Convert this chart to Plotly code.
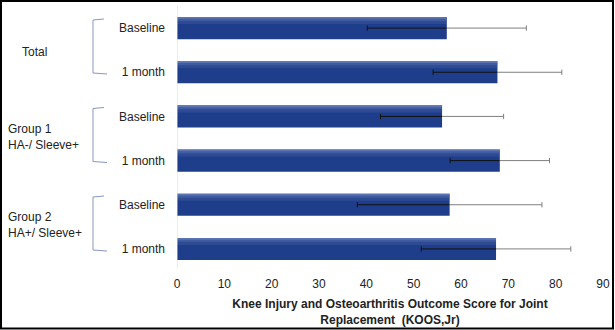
import plotly.graph_objects as go

# ---- data ----
row_labels = ["Baseline", "1 month", "Baseline", "1 month", "Baseline", "1 month"]
group_labels = ["Total", "Group 1<br>HA-/ Sleeve+", "Group 2<br>HA+/ Sleeve+"]
means = [57.0, 67.7, 56.0, 68.2, 57.6, 67.4]
sds = [16.8, 13.6, 13.0, 10.5, 19.5, 15.8]
x_ticks = [0, 10, 20, 30, 40, 50, 60, 70, 80, 90]
x_title = "Knee Injury and Osteoarthritis Outcome Score for Joint<br>Replacement  (KOOS,Jr)"

W, H = 615, 330
ML, MR, MT, MB = 177, 12, 6, 59
PW, PH = W - ML - MR, H - MT - MB

def px(x):
    return (x - ML) / PW

def py(y):
    return (H - MB - y) / PH

ypos = list(range(len(means)))

fig = go.Figure()
fig.add_trace(go.Bar(
    x=means, y=ypos, orientation="h", width=0.5, offset=-0.25,
    marker=dict(color="#1E3D8A", line=dict(width=0)),
    hoverinfo="skip", showlegend=False,
))
# soft highlight toward the top of each bar (gradient look)
for w, col in [(0.16, "rgba(90,115,175,0.25)"), (0.09, "rgba(100,125,185,0.35)"), (0.04, "rgba(120,140,195,0.5)")]:
    fig.add_trace(go.Bar(
        x=means, y=ypos, orientation="h", width=w, offset=-0.25,
        marker=dict(color=col, line=dict(width=0)),
        hoverinfo="skip", showlegend=False,
    ))

# error bars: dark over the bar, gray outside
dx, dy, gx, gy = [], [], [], []
cap = 0.06
for yv, m, s in zip(ypos, means, sds):
    lo, hi = m - s, m + s
    dx += [lo, m, None, lo, lo, None]
    dy += [yv, yv, None, yv - cap, yv + cap, None]
    gx += [m, hi, None, hi, hi, None]
    gy += [yv, yv, None, yv - cap, yv + cap, None]
fig.add_trace(go.Scatter(x=dx, y=dy, mode="lines", line=dict(color="#111111", width=1),
                         hoverinfo="skip", showlegend=False))
fig.add_trace(go.Scatter(x=gx, y=gy, mode="lines", line=dict(color="#7F7F7F", width=1),
                         hoverinfo="skip", showlegend=False))

font = "Liberation Sans, Arial, sans-serif"
annotations = []
shapes = []
# group labels and brackets
group_text_pos = [(20, 52), (6, 137), (6, 225)]
for i, (txt, (gxp, gyp)) in enumerate(zip(group_labels, group_text_pos)):
    annotations.append(dict(
        text=txt, xref="paper", yref="paper", x=px(gxp), y=py(gyp),
        xanchor="left", yanchor="middle", align="left", showarrow=False,
        font=dict(family=font, size=12, color="#222222"),
    ))
    top = 19 + i * 88.5
    bot = top + 55
    shapes.append(dict(
        type="path", xref="paper", yref="paper",
        path=f"M {px(104)},{py(top)} L {px(93)},{py(top + 1)} L {px(93)},{py(bot - 1)} L {px(107)},{py(bot)}",
        line=dict(color="#8696C6", width=1),
    ))

# outer border
shapes.append(dict(type="rect", xref="paper", yref="paper",
                   x0=px(1), x1=px(613), y0=py(1), y1=py(328.5),
                   line=dict(color="black", width=2), fillcolor="rgba(0,0,0,0)"))
# y axis line at 0
shapes.append(dict(type="line", xref="x", yref="paper", x0=0, x1=0, y0=py(268), y1=py(6),
                   line=dict(color="#D9D9D9", width=1)))

fig.update_layout(
    width=W, height=H,
    margin=dict(l=ML, r=MR, t=MT, b=MB),
    plot_bgcolor="white", paper_bgcolor="white",
    font=dict(family=font, size=12, color="#222222"),
    barmode="overlay",
    annotations=annotations, shapes=shapes,
    xaxis=dict(
        range=[0, 90], tickvals=x_ticks, showgrid=False, zeroline=False,
        showline=False, ticks="", ticklabelstandoff=4, tickfont=dict(size=12, color="#222222"),
        title=dict(text=x_title, font=dict(size=12, color="#222222", weight="bold"), standoff=9),
        fixedrange=True,
    ),
    yaxis=dict(
        range=[5.5, -0.5], tickvals=ypos, ticktext=row_labels, showgrid=False,
        zeroline=False, showline=False, ticks="", ticklabelstandoff=11,
        tickfont=dict(size=12, color="#222222"), fixedrange=True,
    ),
)

fig.write_html("out.html")
